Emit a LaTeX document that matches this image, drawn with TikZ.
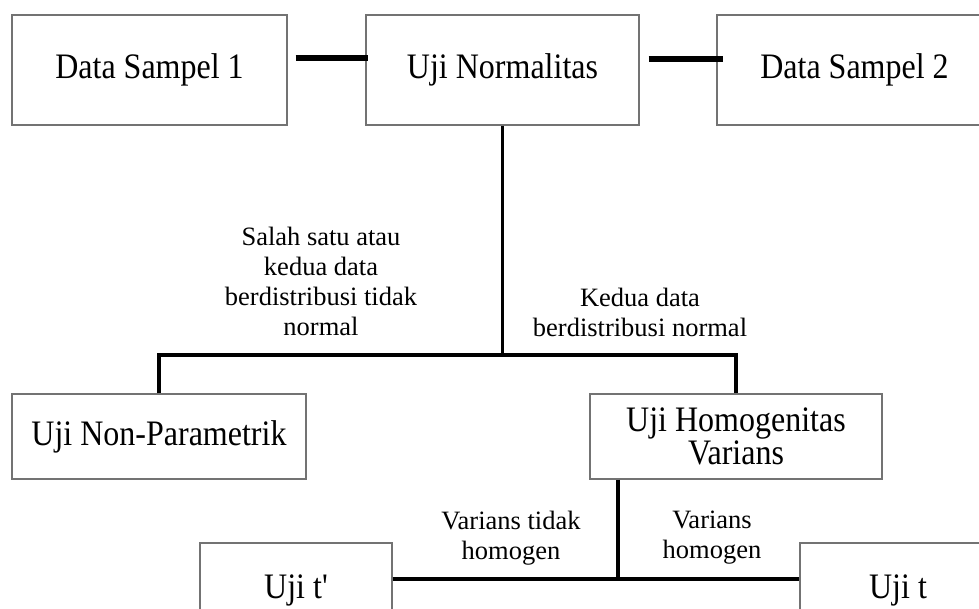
\documentclass[tikz,border=0pt]{standalone}
\usepackage{fontspec}
\setmainfont{Liberation Serif}
\newcommand{\tall}[1]{\scalebox{1}[1.12]{#1}}
\begin{document}
\begin{tikzpicture}
	[ x=1pt, y=-1pt,
	  box/.style={draw=black!55,line width=1.2pt,fill=white,inner sep=0pt,align=center,
	              font=\fontsize{32}{31}\selectfont},
	  link/.style={line width=3.5pt},
	  bar/.style={line width=6.5pt},
	  note/.style={align=center,font=\fontsize{26.5}{30}\selectfont} ]

	\clip (0,0) rectangle (979,609);

	\node[box,minimum width=275pt,minimum height=110pt] (ds1) at (149.5,70) {\tall{Data Sampel 1}};
	\node[box,minimum width=273pt,minimum height=110pt] (norm) at (502.5,70) {\tall{Uji Normalitas}};
	\node[box,minimum width=275pt,minimum height=110pt] (ds2) at (854.5,70) {\tall{Data Sampel 2}};
	\node[box,minimum width=294pt,minimum height=85pt] (nonpar) at (159,436.5) {\tall{Uji Non-Parametrik}};
	\node[box,minimum width=292pt,minimum height=85pt] (homog) at (736,436.5) {\tall{Uji Homogenitas}\\\tall{Varians}};
	\node[box,minimum width=192pt,minimum height=95pt] (ujitp) at (296,590.5) {\tall{Uji t\textquotesingle}};
	\node[box,minimum width=196pt,minimum height=95pt] (ujit) at (898,590.5) {\tall{Uji t}};

	\draw[bar] ([xshift=8pt,yshift=12pt]ds1.east) -- ([xshift=3pt,yshift=12pt]norm.west);
	\draw[bar] ([xshift=9pt,yshift=11pt]norm.east) -- ([xshift=7pt,yshift=11pt]ds2.west);

	\coordinate (split1) at (502.5,355);
	\draw[link] (norm.south) -- (split1);
	\draw[link] (nonpar.north) |- (split1) -| (homog.north);

	\coordinate (split2) at (618,579);
	\draw[link] (split2 |- homog.south) -- (split2);
	\draw[link] (ujitp.east |- split2) -- (ujit.west |- split2);

	\node[note] (tidaknormal) at (321,281) {Salah satu atau\\kedua data\\berdistribusi tidak\\normal};
	\node[note] (normal) at (640,312) {Kedua data\\berdistribusi normal};
	\node[note] (tidakhomogen) at (511,538) {Varians tidak\\homogen};
	\node[note] (homogen) at (712,538) {Varians\\homogen};

\end{tikzpicture}
\end{document}
